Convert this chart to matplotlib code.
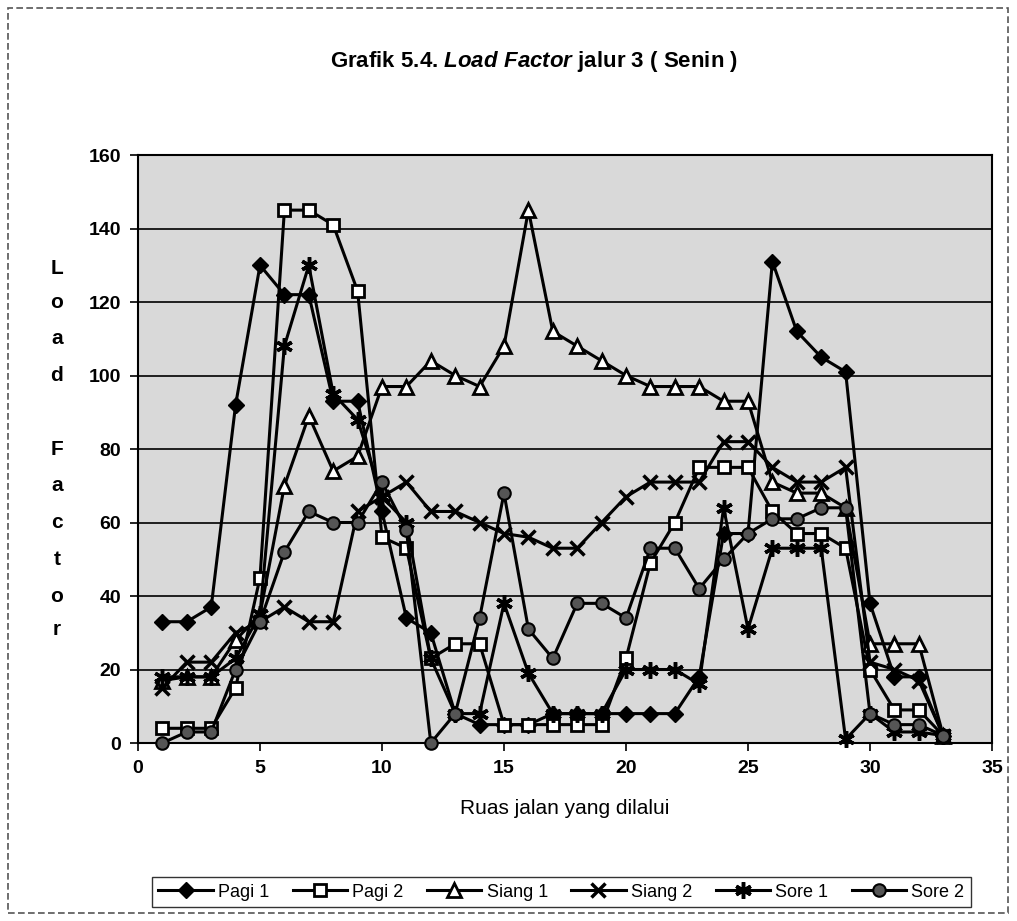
import numpy as np
import matplotlib.pyplot as plt
from matplotlib.patches import Rectangle

plt.rcParams['font.family'] = ['Liberation Sans', 'DejaVu Sans']
plt.rcParams['mathtext.fontset'] = 'custom'
plt.rcParams['mathtext.it'] = 'Liberation Sans:italic:bold'
plt.rcParams['mathtext.rm'] = 'Liberation Sans:bold'

ruas = list(range(1, 34))

pagi1 = [33, 33, 37, 92, 130, 122, 122, 93, 93, 63, 34, 30, 8, 5, 5, 5, 8,
         8, 8, 8, 8, 8, 18, 57, 57, 131, 112, 105, 101, 38, 18, 18, 2]
pagi2 = [4, 4, 4, 15, 45, 145, 145, 141, 123, 56, 53, 23, 27, 27, 5, 5, 5,
         5, 5, 23, 49, 60, 75, 75, 75, 63, 57, 57, 53, 20, 9, 9, 2]
siang1 = [17, 18, 18, 28, 35, 70, 89, 74, 78, 97, 97, 104, 100, 97, 108, 145, 112,
          108, 104, 100, 97, 97, 97, 93, 93, 71, 68, 68, 64, 27, 27, 27, 2]
siang2 = [15, 22, 22, 30, 33, 37, 33, 33, 63, 67, 71, 63, 63, 60, 57, 56, 53,
          53, 60, 67, 71, 71, 71, 82, 82, 75, 71, 71, 75, 22, 20, 17, 2]
sore1 = [18, 18, 18, 23, 35, 108, 130, 95, 88, 67, 60, 23, 8, 8, 38, 19, 8,
         8, 8, 20, 20, 20, 16, 64, 31, 53, 53, 53, 1, 8, 3, 3, 2]
sore2 = [0, 3, 3, 20, 33, 52, 63, 60, 60, 71, 58, 0, 8, 34, 68, 31, 23,
         38, 38, 34, 53, 53, 42, 50, 57, 61, 61, 64, 64, 8, 5, 5, 2]

series = [
    ('Pagi 1', pagi1, dict(marker='D', markersize=8, markerfacecolor='black')),
    ('Pagi 2', pagi2, dict(marker='s', markersize=9, markerfacecolor='white', markeredgewidth=2)),
    ('Siang 1', siang1, dict(marker='^', markersize=10, markerfacecolor='white', markeredgewidth=2)),
    ('Siang 2', siang2, dict(marker='x', markersize=10, markeredgewidth=2.5)),
    ('Sore 1', sore1, dict(marker=(6, 2, 0), markersize=12, markeredgewidth=2.5)),
    ('Sore 2', sore2, dict(marker='o', markersize=9, markerfacecolor='#555555', markeredgewidth=1.5)),
]

fig = plt.figure(figsize=(10.17, 9.21), dpi=100)
ax = fig.add_axes([138 / 1017, 1 - 743 / 921, 854 / 1017, 588 / 921])
ax.set_facecolor('#d9d9d9')

for name, vals, style in series:
    ax.plot(ruas, vals, color='black', lw=2.2, markeredgecolor='black',
            label=name, clip_on=False, zorder=3, **style)

ax.set_xlim(0, 35)
ax.set_ylim(0, 160)
ax.set_xticks(range(0, 36, 5))
ax.set_yticks(range(0, 161, 20))
ax.yaxis.grid(True, color='black', lw=1.2)
ax.set_axisbelow(True)
for s in ax.spines.values():
    s.set_linewidth(1.5)
ax.tick_params(labelsize=14, width=1.2, length=6, pad=6)
for lab in ax.get_xticklabels() + ax.get_yticklabels():
    lab.set_fontweight('bold')

ax.set_xlabel('Ruas jalan yang dilalui', fontsize=15, labelpad=16)

fig.text(0.525, 1 - 62 / 921, r'Grafik 5.4. $Load\ Factor$ jalur 3 ( Senin )',
         ha='center', va='center', fontsize=16, fontweight='bold')

# stacked y label letters, placed beside the tick values like the original
letters = ['L', 'o', 'a', 'd', 'F', 'a', 'c', 't', 'o', 'r']
letter_y = [129, 120, 110, 100, 80, 70, 60, 50, 40, 31]
for ch, yv in zip(letters, letter_y):
    ax.text(-0.095, yv, ch, transform=ax.get_yaxis_transform(), ha='center',
            va='center', fontsize=15, fontweight='bold')

fig.legend(loc='center', bbox_to_anchor=(0.552, 1 - 892 / 921), ncol=6,
           frameon=True, fancybox=False, edgecolor='black', fontsize=13,
           handlelength=3.0, columnspacing=1.3, handletextpad=0.3,
           borderpad=0.35)

fig.patches.append(Rectangle((8 / 1017, 8 / 921), 1000 / 1017, 905 / 921,
                             transform=fig.transFigure, fill=False,
                             edgecolor='#555555', lw=1.2, ls=(0, (4, 2))))

fig.savefig('out.png', dpi=100)
